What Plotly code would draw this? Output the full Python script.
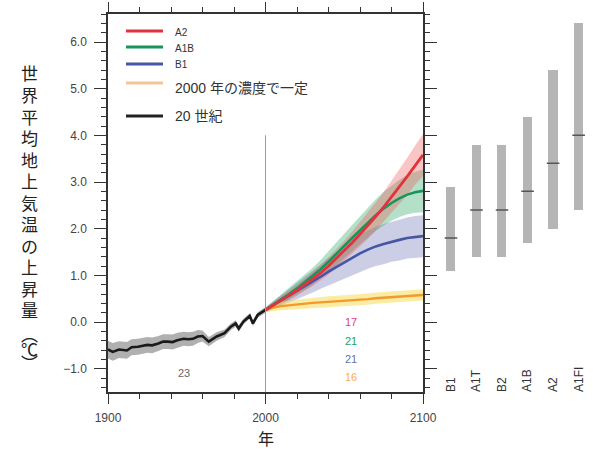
import plotly.graph_objects as go

# ---------------- data ----------------
hist_years = [1900, 1903, 1907, 1912, 1915, 1919, 1925, 1928, 1932, 1935, 1938, 1941, 1944,
              1948, 1951, 1954, 1957, 1960, 1964, 1969, 1974, 1978, 1981, 1983, 1986, 1990,
              1992, 1995, 2000]
hist_vals = [-0.59, -0.64, -0.59, -0.61, -0.54, -0.53, -0.49, -0.50, -0.46, -0.42, -0.42, -0.43,
             -0.39, -0.36, -0.37, -0.36, -0.31, -0.30, -0.42, -0.31, -0.24, -0.10, -0.03, -0.14,
             0.01, 0.13, -0.03, 0.15, 0.26]
hist_sd = [0.19, 0.19, 0.18, 0.18, 0.17, 0.17, 0.17, 0.17, 0.16, 0.16, 0.16, 0.16, 0.16,
           0.15, 0.15, 0.15, 0.14, 0.12, 0.10, 0.09, 0.08, 0.07, 0.07, 0.07, 0.06, 0.06,
           0.06, 0.06, 0.06]

proj_years = [2000, 2005, 2010, 2015, 2020, 2025, 2030, 2035, 2040, 2045, 2050,
              2055, 2060, 2065, 2070, 2075, 2080, 2085, 2090, 2095, 2100]
a2_vals = [0.26, 0.36, 0.46, 0.57, 0.68, 0.80, 0.92, 1.05, 1.20, 1.36, 1.52,
           1.70, 1.88, 2.06, 2.26, 2.46, 2.67, 2.90, 3.12, 3.36, 3.58]
a2_sd = [0.05, 0.07, 0.09, 0.10, 0.12, 0.13, 0.15, 0.17, 0.19, 0.20, 0.22,
         0.24, 0.26, 0.28, 0.30, 0.32, 0.35, 0.37, 0.40, 0.42, 0.45]
a1b_vals = [0.26, 0.37, 0.48, 0.60, 0.72, 0.85, 0.98, 1.13, 1.29, 1.45, 1.63,
            1.80, 1.97, 2.13, 2.29, 2.43, 2.55, 2.65, 2.73, 2.78, 2.81]
a1b_sd = [0.05, 0.08, 0.10, 0.12, 0.14, 0.16, 0.18, 0.20, 0.22, 0.24, 0.26,
          0.28, 0.30, 0.32, 0.34, 0.36, 0.38, 0.40, 0.42, 0.44, 0.46]
b1_vals = [0.26, 0.36, 0.46, 0.56, 0.66, 0.76, 0.86, 0.97, 1.08, 1.18, 1.28,
           1.38, 1.47, 1.55, 1.62, 1.67, 1.72, 1.76, 1.80, 1.82, 1.84]
b1_sd = [0.05, 0.08, 0.11, 0.14, 0.17, 0.20, 0.23, 0.26, 0.29, 0.32, 0.35,
         0.38, 0.40, 0.41, 0.42, 0.43, 0.43, 0.44, 0.44, 0.45, 0.45]
commit_vals = [0.26, 0.31, 0.34, 0.36, 0.38, 0.39, 0.41, 0.42, 0.43, 0.44, 0.45,
               0.47, 0.48, 0.49, 0.51, 0.52, 0.54, 0.55, 0.56, 0.57, 0.58]
commit_sd = [0.05, 0.08, 0.09, 0.10, 0.10, 0.11, 0.11, 0.11, 0.12, 0.12, 0.12,
             0.12, 0.12, 0.12, 0.12, 0.12, 0.12, 0.12, 0.12, 0.12, 0.12]

scen_labels = ["B1", "A1T", "B2", "A1B", "A2", "A1FI"]
scen_best = [1.8, 2.4, 2.4, 2.8, 3.4, 4.0]
scen_low = [1.1, 1.4, 1.4, 1.7, 2.0, 2.4]
scen_high = [2.9, 3.8, 3.8, 4.4, 5.4, 6.4]

model_counts = ["17", "21", "21", "16"]
hist_count = "23"

# ---------------- style ----------------
W, H = 593, 456
L, R, T, B = 108, 0, 14, 64
PW, PH = W - L - R, H - T - B
FONT = "Liberation Sans, Arial, Noto Sans CJK JP, sans-serif"
CJK = "Noto Sans CJK JP"


def px(x):
    return (x - L) / PW


def py(y):
    return (H - B - y) / PH


C_A2 = "#e2323e"
C_A1B = "#17955a"
C_B1 = "#4656a6"
C_COM = "#f39a2a"
C_COM_LEG = "#f5c497"

fig = go.Figure()


def band(xs, vals, sd, color):
    up = [v + s for v, s in zip(vals, sd)]
    lo = [v - s for v, s in zip(vals, sd)]
    fig.add_trace(go.Scatter(x=list(xs) + list(xs)[::-1], y=up + lo[::-1], fill="toself",
                             fillcolor=color, line=dict(width=0), mode="lines",
                             hoverinfo="skip", showlegend=False, xaxis="x", yaxis="y"))


band(hist_years, hist_vals, hist_sd, "rgba(150,150,150,0.75)")
band(proj_years, b1_vals, b1_sd, "rgba(70,80,160,0.28)")
band(proj_years, a1b_vals, a1b_sd, "rgba(40,165,100,0.35)")
band(proj_years, a2_vals, a2_sd, "rgba(240,90,90,0.35)")
band(proj_years, commit_vals, commit_sd, "rgba(245,220,90,0.55)")


def line(xs, ys, color, w=2.6):
    fig.add_trace(go.Scatter(x=xs, y=ys, mode="lines", line=dict(color=color, width=w),
                             hoverinfo="skip", showlegend=False, xaxis="x", yaxis="y"))


line(proj_years, commit_vals, C_COM, 2.4)
line(proj_years, b1_vals, C_B1)
line(proj_years, a1b_vals, C_A1B)
line(proj_years, a2_vals, C_A2, 2.8)
line(hist_years, hist_vals, "#1a1a1a", 2.6)

# right panel: scenario ranges
fig.add_trace(go.Bar(x=scen_labels, y=[h - l for h, l in zip(scen_high, scen_low)], base=scen_low,
                     width=0.36, marker=dict(color="#b5b5b5", line=dict(width=0)),
                     hoverinfo="skip", showlegend=False, xaxis="x2", yaxis="y"))
fig.add_trace(go.Scatter(x=scen_labels, y=scen_best, mode="markers",
                         marker=dict(symbol="line-ew", size=9,
                                     line=dict(color="#555555", width=1.5)),
                         hoverinfo="skip", showlegend=False, xaxis="x2", yaxis="y"))

axis_common = dict(showline=True, linecolor="#333333", linewidth=1.5, mirror="ticks",
                   ticks="outside", tickcolor="#333333", tickwidth=1.2, showgrid=False,
                   zeroline=False, automargin=False,
                   tickfont=dict(size=12, color="#444444", family=FONT))

fig.update_layout(
    width=W, height=H, margin=dict(l=L, r=R, t=T, b=B, autoexpand=False),
    paper_bgcolor="white", plot_bgcolor="rgba(0,0,0,0)",
    font=dict(family=FONT, color="#222222"),
    bargap=0,
    xaxis=dict(domain=[0, 315 / PW], range=[1900, 2100], tickvals=[1900, 2000, 2100],
               ticklen=10, ticklabelstandoff=4,
               minor=dict(dtick=20, tick0=1900, ticklen=5, ticks="outside",
                          tickcolor="#333333", tickwidth=1),
               **axis_common),
    yaxis=dict(range=[-1.5, 6.6], tickvals=[-1, 0, 1, 2, 3, 4, 5, 6], tickformat=".1f",
               ticklen=12, ticklabelstandoff=5,
               minor=dict(dtick=0.2, tick0=0, ticklen=5, ticks="outside",
                          tickcolor="#333333", tickwidth=1),
               **axis_common),
    xaxis2=dict(domain=[(438.2 - L) / PW, (591.4 - L) / PW], range=[-0.5, 5.5],
                type="category", anchor="free", position=0, side="top", automargin=False,
                tickangle=-90, showline=False, ticks="", showgrid=False, zeroline=False,
                tickfont=dict(size=12, color="#333333", family=FONT)),
)

shapes = [dict(type="line", xref="x", yref="y", x0=2000, x1=2000, y0=-1.5, y1=4.0,
               line=dict(color="#9a9a9a", width=1))]

# legend (manual)
leg = [("A2", C_A2, 32, 31, 10), ("A1B", C_A1B, 48, 47, 10), ("B1", C_B1, 65, 64, 10),
       ("2000 年の濃度で一定", C_COM_LEG, 88, 83, 14), ("20 世紀", "#222222", 116, 116, 14)]
annotations = []
for name, col, ty, ly, fs in leg:
    shapes.append(dict(type="line", xref="paper", yref="paper", x0=px(126), x1=px(163),
                       y0=py(ly), y1=py(ly), line=dict(color=col, width=3)))
    annotations.append(dict(xref="paper", yref="paper", x=px(173), y=py(ty), text=name,
                            showarrow=False, xanchor="left", yanchor="middle",
                            font=dict(size=fs, color="#333333", family=FONT)))

# model counts
count_cols = ["#e0407a", "#2aa05a", "#6670a8", "#f5b050"]
count_y = [0.0, -0.41, -0.80, -1.17]
for t, c, yv in zip(model_counts, count_cols, count_y):
    annotations.append(dict(xref="x", yref="y", x=2054, y=yv, text=t, showarrow=False,
                            font=dict(size=11, color=c, family=FONT)))
annotations.append(dict(xref="x", yref="y", x=1948, y=-1.09, text=hist_count, showarrow=False,
                        font=dict(size=11, color="#666666", family=FONT)))

# vertical y-axis title, one glyph per row
ytitle_chars = list("世界平均地上気温の上昇量") + ["︵", "℃", "︶"]
ytitle_pos = [73 + 21.5 * i for i in range(12)] + [333, 348, 362]
for ch, yy in zip(ytitle_chars, ytitle_pos):
    annotations.append(dict(xref="paper", yref="paper", x=px(29), y=py(yy), text=ch,
                            showarrow=False, xanchor="center", yanchor="middle",
                            font=dict(size=17, color="#222222", family=CJK)))
annotations.append(dict(xref="paper", yref="paper", x=px(266), y=py(438), text="年",
                        showarrow=False, xanchor="center", yanchor="middle",
                        font=dict(size=16, color="#222222", family=CJK)))

fig.update_layout(shapes=shapes, annotations=annotations)

fig.write_html("out.html")
